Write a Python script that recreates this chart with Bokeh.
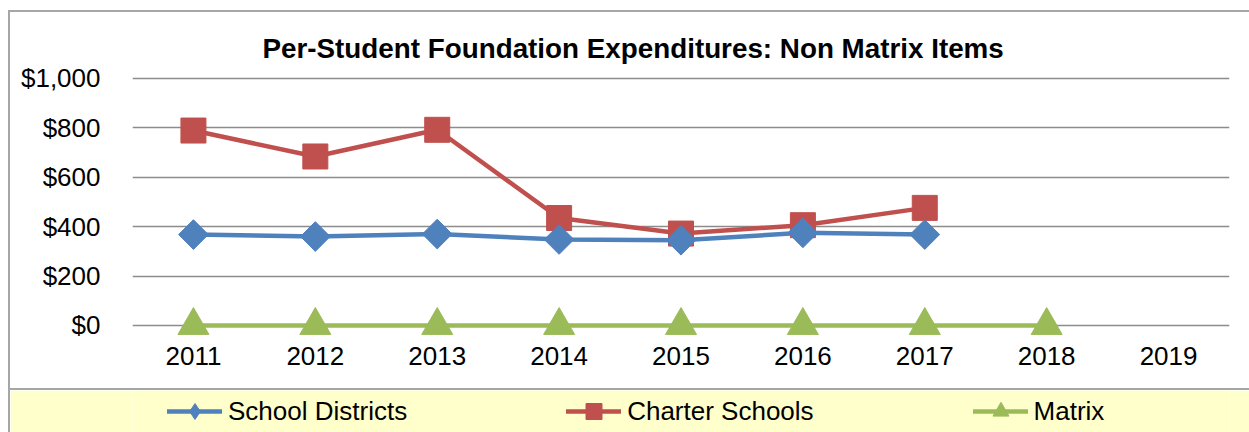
import math
from bokeh.plotting import figure
from bokeh.layouts import column, row
from bokeh.models import (FactorRange, Range1d, FixedTicker, NumeralTickFormatter,
                          Legend, LegendItem, Spacer)
from bokeh.embed import file_html
from bokeh.resources import INLINE

years = ["2011", "2012", "2013", "2014", "2015", "2016", "2017", "2018", "2019"]
district_years = ["2011", "2012", "2013", "2014", "2015", "2016", "2017"]
school_districts = [368, 360, 370, 348, 345, 375, 368]
charter_years = ["2011", "2012", "2013", "2014", "2015", "2016", "2017"]
charter_schools = [789, 684, 792, 435, 372, 406, 476]
matrix_years = ["2011", "2012", "2013", "2014", "2015", "2016", "2017", "2018"]
matrix = [0, 0, 0, 0, 0, 0, 0, 0]
y_ticks = [0, 200, 400, 600, 800, 1000]
series_names = ["School Districts", "Charter Schools", "Matrix"]
title_text = "Per-Student Foundation Expenditures: Non Matrix Items"

FONT = "Liberation Sans"
BLUE = "#4F81BD"
RED = "#C0504D"
GREEN = "#9BBB59"
GRID = "#8c8c8c"
EDGE = "#a6a6a6"
BAND = "#FFFFCC"
W = 1239

p = figure(width=W, height=376, x_range=FactorRange(*years),
           y_range=Range1d(-81, 1032), output_backend="svg", toolbar_location=None,
           min_border_left=122, min_border_right=20, min_border_top=58,
           min_border_bottom=43, styles={"overflow": "hidden"})
p.outline_line_color = None
p.background_fill_color = "white"
p.border_fill_color = "white"

p.title.text = title_text
p.title.text_font = FONT
p.title.text_font_size = "27.8px"
p.title.text_font_style = "bold"
p.title.text_color = "black"
p.title.align = "left"
p.title.offset = 130
p.title.standoff = 13

p.yaxis.ticker = FixedTicker(ticks=y_ticks)
p.yaxis.formatter = NumeralTickFormatter(format="$0,0")
p.yaxis.axis_line_color = None
p.yaxis.major_tick_line_color = None
p.yaxis.minor_tick_line_color = None
p.yaxis.major_tick_out = 0
p.yaxis.major_tick_in = 0
p.yaxis.major_label_standoff = 32
p.yaxis.major_label_text_font = FONT
p.yaxis.major_label_text_font_size = "26px"
p.yaxis.major_label_text_color = "black"

p.xaxis.axis_line_color = None
p.xaxis.major_tick_line_color = None
p.xaxis.minor_tick_line_color = None
p.xaxis.major_tick_out = 0
p.xaxis.major_tick_in = 0
p.xaxis.major_label_standoff = 1
p.xaxis.major_label_text_font = FONT
p.xaxis.major_label_text_font_size = "26px"
p.xaxis.major_label_text_color = "black"

p.xgrid.grid_line_color = None
p.ygrid.ticker = FixedTicker(ticks=y_ticks)
p.ygrid.grid_line_color = GRID
p.ygrid.grid_line_width = 1.6

# (x, y, colour, chart marker, chart marker size, legend marker)
series = [(district_years, school_districts, BLUE,
           dict(marker="square", angle=math.pi / 4), 21, dict(marker="diamond")),
          (charter_years, charter_schools, RED, dict(marker="square"), 25,
           dict(marker="square")),
          (matrix_years, matrix, GREEN, dict(marker="triangle"), 31,
           dict(marker="triangle"))]

for xs, ys, color, mk, size, _ in reversed(series):
    p.line(xs, ys, line_color=color, line_width=4.5, line_join="round")
    p.scatter(xs, ys, size=size, fill_color=color, line_color=color, **mk)

# legend band (strip below the chart); its renderers use the same series,
# placed outside the strip's visible range so only the legend shows
lg = figure(width=W, height=42, x_range=Range1d(-3, -2), y_range=Range1d(0, 1000),
            output_backend="svg", toolbar_location=None,
            x_axis_location=None, y_axis_location=None,
            min_border_left=122, min_border_right=20,
            min_border_top=0, min_border_bottom=0,
            styles={"overflow": "hidden"})
lg.outline_line_color = None
lg.background_fill_color = BAND
lg.border_fill_color = BAND
lg.grid.visible = False

items = []
for name, (xs, ys, color, mk, size, lmk) in zip(series_names, series):
    idx = list(range(len(ys)))
    lr = lg.line(idx, ys, line_color=color, line_width=4.5, line_cap="round")
    sr = lg.scatter(idx, ys, fill_color=color, line_color=color, **lmk)
    items.append(LegendItem(label=name, renderers=[lr, sr]))

legend = Legend(items=items, location=(35, 1), orientation="horizontal",
                glyph_width=55, glyph_height=40, label_standoff=6, spacing=159,
                padding=0, margin=0, background_fill_alpha=0,
                border_line_color=None,
                label_text_font=FONT, label_text_font_size="26px",
                label_text_color="black")
lg.add_layout(legend, "center")

# chart-area border lines (left, top) and the band's top line
left_edge = Spacer(width=2, height=422, styles={"background-color": EDGE})
top_edge = Spacer(width=W, height=2, styles={"background-color": EDGE})
band_edge = Spacer(width=W, height=2, styles={"background-color": EDGE})

layout = row(left_edge, column(top_edge, p, band_edge, lg, spacing=0),
             spacing=0, margin=(10, 0, 0, 8))

open("out.html", "w").write(file_html(layout, INLINE))
